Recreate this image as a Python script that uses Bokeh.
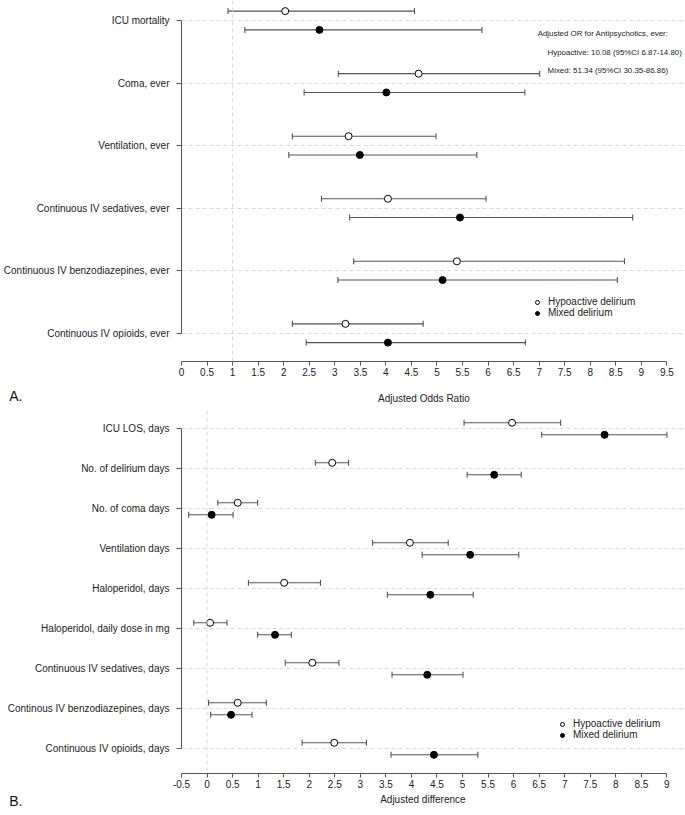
import math
from bokeh.plotting import figure
from bokeh.models import Range1d, FixedTicker, Span, Label, Legend, LegendItem
from bokeh.layouts import column
from bokeh.embed import file_html
from bokeh.resources import INLINE

# ---------------- Panel A: adjusted odds ratios ----------------
or_labels = ["ICU mortality", "Coma, ever", "Ventilation, ever",
             "Continuous IV sedatives, ever", "Continuous IV benzodiazepines, ever",
             "Continuous IV opioids, ever"]
or_hypo = [2.03, 4.64, 3.27, 4.04, 5.39, 3.21]
or_hypo_lo = [0.91, 3.07, 2.17, 2.74, 3.37, 2.17]
or_hypo_hi = [4.56, 7.01, 4.98, 5.96, 8.67, 4.73]
or_mixed = [2.70, 4.01, 3.49, 5.45, 5.11, 4.04]
or_mixed_lo = [1.24, 2.40, 2.10, 3.29, 3.06, 2.44]
or_mixed_hi = [5.88, 6.72, 5.78, 8.83, 8.53, 6.73]
or_ticks = [0, 0.5, 1, 1.5, 2, 2.5, 3, 3.5, 4, 4.5, 5, 5.5, 6, 6.5, 7, 7.5, 8, 8.5, 9, 9.5]
or_tick_labels = ["0", "0.5", "1", "1.5", "2", "2.5", "3", "3.5", "4", "4.5", "5", "5.5",
                  "6", "6.5", "7", "7.5", "8", "8.5", "9", "9.5"]
or_reference = 1
or_title = "Adjusted Odds Ratio"
or_note = ["Adjusted OR for Antipsychotics, ever:",
           "Hypoactive: 10.08 (95%CI 6.87-14.80)",
           "Mixed: 51.34 (95%CI 30.35-86.86)"]

# ---------------- Panel B: adjusted differences ----------------
diff_labels = ["ICU LOS, days", "No. of delirium days", "No. of coma days",
               "Ventilation days", "Haloperidol, days", "Haloperidol, daily dose in mg",
               "Continuous IV sedatives, days", "Continous IV benzodiazepines, days",
               "Continuous IV opioids, days"]
diff_hypo = [5.97, 2.45, 0.60, 3.97, 1.51, 0.06, 2.06, 0.60, 2.49]
diff_hypo_lo = [5.03, 2.12, 0.21, 3.24, 0.81, -0.26, 1.53, 0.03, 1.86]
diff_hypo_hi = [6.92, 2.77, 0.99, 4.72, 2.22, 0.39, 2.58, 1.16, 3.12]
diff_mixed = [7.78, 5.62, 0.09, 5.15, 4.37, 1.33, 4.31, 0.47, 4.44]
diff_mixed_lo = [6.55, 5.09, -0.36, 4.21, 3.53, 0.99, 3.62, 0.07, 3.60]
diff_mixed_hi = [9.00, 6.15, 0.51, 6.10, 5.21, 1.65, 5.01, 0.88, 5.30]
diff_ticks = [-0.5, 0, 0.5, 1, 1.5, 2, 2.5, 3, 3.5, 4, 4.5, 5, 5.5, 6, 6.5, 7, 7.5, 8, 8.5, 9]
diff_tick_labels = ["-0.5", "0", "0.5", "1", "1.5", "2", "2.5", "3", "3.5", "4", "4.5", "5",
                    "5.5", "6", "6.5", "7", "7.5", "8", "8.5", "9"]
diff_reference = 0
diff_title = "Adjusted difference"

legend_labels = ["Hypoactive delirium", "Mixed delirium"]

FONT = "Liberation Sans"
BAR = "#555555"
GRID = "#d9d9d9"
TEXT = "#222222"
OFFSET = 0.15
WIDTH = 685
LEFT = 177
UNIT = 51.5


def panel(labels, hypo, hlo, hhi, mixed, mlo, mhi, ticks, tick_labels, ref,
          y_top, y_bottom, height, border_bottom, legend_xy):
    rows = list(range(len(labels)))
    x_end = ticks[0] + (WIDTH - LEFT) / UNIT
    p = figure(width=WIDTH, height=height,
               x_range=Range1d(ticks[0], x_end),
               y_range=Range1d(y_bottom, y_top),
               output_backend="svg", toolbar_location=None,
               min_border_left=LEFT, min_border_right=0, min_border_top=0,
               min_border_bottom=border_bottom)
    p.outline_line_color = None
    p.background_fill_color = "white"

    xa = p.xaxis[0]
    xa.ticker = FixedTicker(ticks=ticks)
    xa.major_label_overrides = dict(zip(ticks, tick_labels))
    xa.bounds = (ticks[0], ticks[-1])
    xa.minor_tick_line_color = None
    xa.major_tick_in = 0
    xa.major_tick_out = 4
    xa.axis_line_color = BAR
    xa.major_tick_line_color = BAR
    xa.major_label_standoff = 2
    xa.major_label_text_font = FONT
    xa.major_label_text_font_size = "10px"
    xa.major_label_text_color = TEXT

    ya = p.yaxis[0]
    ya.ticker = FixedTicker(ticks=rows)
    ya.major_label_overrides = dict(zip(rows, labels))
    ya.bounds = (rows[0], rows[-1])
    ya.minor_tick_line_color = None
    ya.major_tick_in = 0
    ya.major_tick_out = 5
    ya.axis_line_color = BAR
    ya.major_tick_line_color = BAR
    ya.major_label_standoff = 7
    ya.major_label_text_font = FONT
    ya.major_label_text_font_size = "10px"
    ya.major_label_text_color = TEXT

    p.xgrid.visible = False
    p.ygrid.ticker = FixedTicker(ticks=rows)
    p.ygrid.grid_line_color = GRID
    p.ygrid.grid_line_dash = "4 3"
    p.ygrid.grid_line_width = 1

    p.add_layout(Span(location=ref, dimension="height", line_color=GRID,
                      line_dash="4 3", line_width=1))

    yh = [r - OFFSET for r in rows]
    ym = [r + OFFSET for r in rows]
    for lo, hi, yy in ((hlo, hhi, yh), (mlo, mhi, ym)):
        p.segment(x0=lo, y0=yy, x1=hi, y1=yy, line_color=BAR, line_width=1.1)
        p.scatter(x=lo + hi, y=yy + yy, marker="dash", angle=math.pi / 2, size=6,
                  line_color=BAR, line_width=1.1)
    rh = p.scatter(x=hypo, y=yh, marker="circle", size=7, fill_color="white",
                   line_color="black", line_width=1)
    rm = p.scatter(x=mixed, y=ym, marker="circle", size=7, fill_color="black",
                   line_color="black", line_width=1)

    legend = Legend(items=[LegendItem(label=legend_labels[0], renderers=[rh]),
                           LegendItem(label=legend_labels[1], renderers=[rm])],
                    location=legend_xy, border_line_color=None,
                    background_fill_alpha=0, padding=0, margin=0, spacing=0,
                    label_height=10, glyph_height=10, glyph_width=10,
                    label_standoff=6, label_text_font=FONT,
                    label_text_font_size="10px", label_text_color=TEXT,
                    label_text_line_height=0.8)
    p.add_layout(legend)
    return p


def strip(height, letter, letter_y, title, title_x, title_y):
    # a thin band below a panel: the panel letter sits in its left border (as
    # the only tick label of a bare y axis), the axis title inside the frame
    s = figure(width=WIDTH, height=height, x_range=Range1d(LEFT, WIDTH),
               y_range=Range1d(height, 0), x_axis_type=None,
               output_backend="svg", toolbar_location=None,
               min_border_left=LEFT, min_border_right=0, min_border_top=0,
               min_border_bottom=0)
    s.outline_line_color = None
    s.grid.visible = False
    ya = s.yaxis[0]
    ya.ticker = FixedTicker(ticks=[letter_y])
    ya.major_label_overrides = {letter_y: letter}
    ya.axis_line_color = None
    ya.major_tick_line_color = None
    ya.minor_tick_line_color = None
    ya.major_tick_in = 0
    ya.major_tick_out = 0
    ya.major_label_standoff = 159
    ya.major_label_text_font = FONT
    ya.major_label_text_font_size = "14px"
    ya.major_label_text_color = "#111111"
    s.add_layout(Label(x=title_x, y=title_y, text=title, text_font=FONT,
                       text_font_size="10px", text_baseline="middle",
                       text_align="center", text_color=TEXT))
    return s


pa = panel(or_labels, or_hypo, or_hypo_lo, or_hypo_hi, or_mixed, or_mixed_lo, or_mixed_hi,
           or_ticks, or_tick_labels, or_reference,
           -0.3198, 5.452, 383, 22, (351, 43))

note_pos = [(6.971, 0.208), (7.165, 0.512), (7.165, 0.80)]
for txt, (nx, ny) in zip(or_note, note_pos):
    pa.add_layout(Label(x=nx, y=ny, text=txt, text_font=FONT, text_font_size="7.9px",
                        text_baseline="middle", text_align="left", text_color=TEXT))

sa = strip(27, "A.", 12.2, or_title, 421.3, 14.7)

pb = panel(diff_labels, diff_hypo, diff_hypo_lo, diff_hypo_hi, diff_mixed, diff_mixed_lo,
           diff_mixed_hi, diff_ticks, diff_tick_labels, diff_reference,
           -0.4575, 8.6175, 380, 17, (376, 33))

sb = strip(25, "B.", 5.8, diff_title, 420.3, 9.3)

layout = column(pa, sa, pb, sb, spacing=0)
open("out.html", "w").write(file_html(layout, INLINE))
